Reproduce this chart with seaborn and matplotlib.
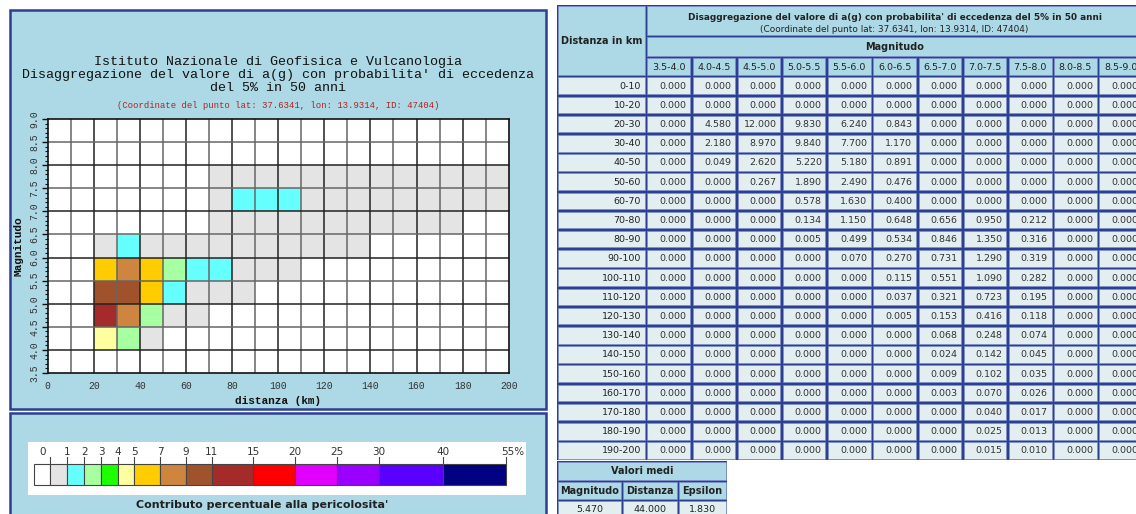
import numpy as np
import pandas as pd
import seaborn as sns
import matplotlib.pyplot as plt
from matplotlib.colors import ListedColormap, BoundaryNorm
from matplotlib.patches import Rectangle
from matplotlib.ticker import FixedLocator

distance_bins = ["0-10", "10-20", "20-30", "30-40", "40-50", "50-60", "60-70",
                 "70-80", "80-90", "90-100", "100-110", "110-120", "120-130",
                 "130-140", "140-150", "150-160", "160-170", "170-180",
                 "180-190", "190-200"]
magnitude_bins = ["3.5-4.0", "4.0-4.5", "4.5-5.0", "5.0-5.5", "5.5-6.0",
                  "6.0-6.5", "6.5-7.0", "7.0-7.5", "7.5-8.0", "8.0-8.5",
                  "8.5-9.0"]

# contributo percentuale, one row per distance bin, one column per magnitude bin
contrib = [
    [0, 0, 0, 0, 0, 0, 0, 0, 0, 0, 0],
    [0, 0, 0, 0, 0, 0, 0, 0, 0, 0, 0],
    [0, 4.580, 12.000, 9.830, 6.240, 0.843, 0, 0, 0, 0, 0],
    [0, 2.180, 8.970, 9.840, 7.700, 1.170, 0, 0, 0, 0, 0],
    [0, 0.049, 2.620, 5.220, 5.180, 0.891, 0, 0, 0, 0, 0],
    [0, 0, 0.267, 1.890, 2.490, 0.476, 0, 0, 0, 0, 0],
    [0, 0, 0, 0.578, 1.630, 0.400, 0, 0, 0, 0, 0],
    [0, 0, 0, 0.134, 1.150, 0.648, 0.656, 0.950, 0.212, 0, 0],
    [0, 0, 0, 0.005, 0.499, 0.534, 0.846, 1.350, 0.316, 0, 0],
    [0, 0, 0, 0, 0.070, 0.270, 0.731, 1.290, 0.319, 0, 0],
    [0, 0, 0, 0, 0, 0.115, 0.551, 1.090, 0.282, 0, 0],
    [0, 0, 0, 0, 0, 0.037, 0.321, 0.723, 0.195, 0, 0],
    [0, 0, 0, 0, 0, 0.005, 0.153, 0.416, 0.118, 0, 0],
    [0, 0, 0, 0, 0, 0, 0.068, 0.248, 0.074, 0, 0],
    [0, 0, 0, 0, 0, 0, 0.024, 0.142, 0.045, 0, 0],
    [0, 0, 0, 0, 0, 0, 0.009, 0.102, 0.035, 0, 0],
    [0, 0, 0, 0, 0, 0, 0.003, 0.070, 0.026, 0, 0],
    [0, 0, 0, 0, 0, 0, 0, 0.040, 0.017, 0, 0],
    [0, 0, 0, 0, 0, 0, 0, 0.025, 0.013, 0, 0],
    [0, 0, 0, 0, 0, 0, 0, 0.015, 0.010, 0, 0],
]

# printed 0.000 in the table but still shaded in the map (below 0.0005 %)
trace_cells = [("60-70", "4.5-5.0"), ("100-110", "5.5-6.0"),
               ("130-140", "6.0-6.5"), ("170-180", "6.5-7.0")]
trace_value = 0.0004

mean_labels = ["Magnitudo", "Distanza", "Epsilon"]
mean_values = [5.470, 44.000, 1.830]

legend_bounds = [0, 1, 2, 3, 4, 5, 7, 9, 11, 15, 20, 25, 30, 40, 55]
legend_colors = ["#ffffff", "#e4e4e4", "#66ffff", "#a6ffa0", "#1eff00",
                 "#ffffa0", "#ffcc00", "#cd853f", "#a0522d", "#a52a2a",
                 "#ff0000", "#e100ff", "#9900ff", "#5a00ff", "#000080"]

title_lines = ["Istituto Nazionale di Geofisica e Vulcanologia",
               "Disaggregazione del valore di a(g) con probabilita' di eccedenza",
               "del 5% in 50 anni"]
coord_text = "(Coordinate del punto lat: 37.6341, lon: 13.9314, ID: 47404)"

W, H = 1136, 514
MONO = "Liberation Mono"
SANS = "DejaVu Sans"
NAVY = "#2c3f92"
LBLUE = "#add8e6"
CELL = "#e2eef0"

df = pd.DataFrame(contrib, index=distance_bins, columns=magnitude_bins)
map_df = df.copy()
for d, m in trace_cells:
    map_df.loc[d, m] = trace_value
grid = map_df.T.iloc[::-1]  # magnitude rows, 8.5-9.0 on top

fig = plt.figure(figsize=(W / 100, H / 100), dpi=100)
bg = fig.add_axes([0, 0, 1, 1])
bg.set_xlim(0, W)
bg.set_ylim(H, 0)
bg.axis("off")

# left panels
bg.add_patch(Rectangle((10, 10), 536, 399, fc=LBLUE, ec=NAVY, lw=1.8))
bg.add_patch(Rectangle((10, 413), 536, 120, fc=LBLUE, ec=NAVY, lw=1.8))

for i, line in enumerate(title_lines):
    bg.text(278, 62 + 13 * i, line, family=MONO, fontsize=9.6,
            ha="center", va="center", color="#111")
bg.text(278, 105, coord_text, family=MONO, fontsize=6.4, ha="center",
        va="center", color="#b22222")
bg.text(278, 401, "distanza (km)", family=MONO, fontsize=8, weight="bold",
        ha="center", va="center", color="#111")
bg.text(18, 246, "Magnitudo", family=MONO, fontsize=8, weight="bold",
        ha="center", va="center", rotation=90, color="#111")

# heatmap of the disaggregation
x0, x1, y0, y1 = 47.7, 508.7, 119, 373
ax = fig.add_axes([x0 / W, 1 - y1 / H, (x1 - x0) / W, (y1 - y0) / H])
bounds = [0, 1e-6] + legend_bounds[1:]
cmap = ListedColormap(legend_colors)
norm = BoundaryNorm(bounds, cmap.N)
sns.heatmap(grid, ax=ax, cmap=cmap, norm=norm, cbar=False,
            xticklabels=False, yticklabels=False, linewidths=0)

ncol, nrow = grid.shape[1], grid.shape[0]
for k in range(1, ncol):
    ax.axvline(k, color="#222" if k % 2 == 0 else "#666", lw=1.1)
for k in range(1, nrow):
    ax.axhline(k, color="#222" if (nrow - k) % 2 == 1 else "#666", lw=1.1)
for s in ax.spines.values():
    s.set_visible(True)
    s.set_color("#111")
    s.set_linewidth(1.2)

ax.set_xticks(np.arange(0, ncol + 1, 2))
ax.set_xticklabels([str(10 * k) for k in range(0, ncol + 1, 2)],
                   family=MONO, fontsize=7, color="#333")
ax.set_yticks(np.arange(0, nrow + 1))
ax.set_yticklabels([f"{9.0 - 0.5 * k:.1f}" for k in range(nrow + 1)],
                   family=MONO, fontsize=7, color="#333", rotation=90,
                   va="center")
ax.yaxis.set_minor_locator(FixedLocator(np.arange(0, nrow + 0.01, 0.2)))
ax.tick_params(axis="x", length=0, pad=6)
ax.tick_params(axis="y", which="major", length=4, width=1, pad=2, color="#111")
ax.tick_params(axis="y", which="minor", length=2, width=0.8, color="#111")
ax.set_xlabel("")
ax.set_ylabel("")

# colour legend
bg.add_patch(Rectangle((28, 442), 498, 53, fc="white", ec="none"))
edges = [34.4, 50.2, 66.7, 84.2, 101.1, 117.5, 134.0, 160.4, 186.0, 211.6,
         253.3, 294.7, 336.8, 378.9, 442.8, 506.3]
for i, c in enumerate(legend_colors):
    bg.add_patch(Rectangle((edges[i], 464), edges[i + 1] - edges[i], 21,
                           fc=c, ec="#444", lw=0.8))
bg.text((edges[0] + edges[1]) / 2, 452, "0", family=SANS, fontsize=7.5,
        ha="center", va="center", color="#333")
for i, e in enumerate(edges[1:]):
    bg.plot([e, e], [457, 464], color="#444", lw=0.8)
    if i == 0:
        continue
    lab = str(legend_bounds[i]) + ("%" if i == len(legend_bounds) - 1 else "")
    bg.text(e + (6 if lab.endswith("%") else 0), 452, lab, family=SANS,
            fontsize=7.5, ha="center", va="center", color="#333")
bg.text(262, 505, "Contributo percentuale alla pericolosita'", family=SANS,
        fontsize=8, weight="bold", ha="center", va="center", color="#222")


# table on the right
def cell(cx0, cy0, cx1, cy1, fc, text=None, ha="center", bold=False,
         size=6.8, color="#222"):
    bg.add_patch(Rectangle((cx0 + 1.3, cy0 + 1.3), cx1 - cx0 - 2.6,
                           cy1 - cy0 - 2.6, fc=fc, ec="#8090c8", lw=0.5))
    if text is None:
        return
    tx = (cx0 + cx1) / 2 if ha == "center" else cx1 - 5
    bg.text(tx, (cy0 + cy1) / 2 + 0.5, text, family=SANS, fontsize=size,
            weight="bold" if bold else "normal", ha=ha, va="center",
            color=color)


tx0, tx1 = 557, 646
cw = 45.2
rh = 19.2
ry0 = 76
col_edges = [tx1 + cw * k for k in range(len(magnitude_bins) + 1)]
row_edges = [ry0 + rh * k for k in range(len(distance_bins) + 1)]

bg.add_patch(Rectangle((tx0, 5), col_edges[-1] - tx0, row_edges[-1] - 5,
                       fc=NAVY, ec="none"))
cell(tx0, 5, tx1, ry0, LBLUE, "Distanza in km", bold=True, size=7)
cell(tx1, 5, col_edges[-1], 36, LBLUE)
mid = (tx1 + col_edges[-1]) / 2
bg.text(mid, 17, "Disaggregazione del valore di a(g) con probabilita' di "
        "eccedenza del 5% in 50 anni", family=SANS, fontsize=6.4,
        weight="bold", ha="center", va="center", color="#222")
bg.text(mid, 29, coord_text, family=SANS, fontsize=6.4, ha="center",
        va="center", color="#222")
cell(tx1, 36, col_edges[-1], 57, LBLUE, "Magnitudo", bold=True, size=7)
for j, m in enumerate(magnitude_bins):
    cell(col_edges[j], 57, col_edges[j + 1], ry0, LBLUE, m)
for i, d in enumerate(distance_bins):
    cell(tx0, row_edges[i], tx1, row_edges[i + 1], CELL, d, ha="right")
    for j in range(len(magnitude_bins)):
        cell(col_edges[j], row_edges[i], col_edges[j + 1], row_edges[i + 1],
             CELL, f"{df.iloc[i, j]:.3f}", ha="right", color="#333")

# mean values table
my0 = row_edges[-1] + 1
m_edges = [557, 622, 678, 727]
bg.add_patch(Rectangle((557, my0), 170, 60, fc=NAVY, ec="none"))
cell(557, my0, 727, my0 + 20, LBLUE, "Valori medi", bold=True, size=7)
for k, lab in enumerate(mean_labels):
    cell(m_edges[k], my0 + 20, m_edges[k + 1], my0 + 39, LBLUE, lab,
         bold=True, size=7)
    cell(m_edges[k], my0 + 39, m_edges[k + 1], my0 + 58, CELL,
         f"{mean_values[k]:.3f}")

fig.savefig("out.png", dpi=100)
